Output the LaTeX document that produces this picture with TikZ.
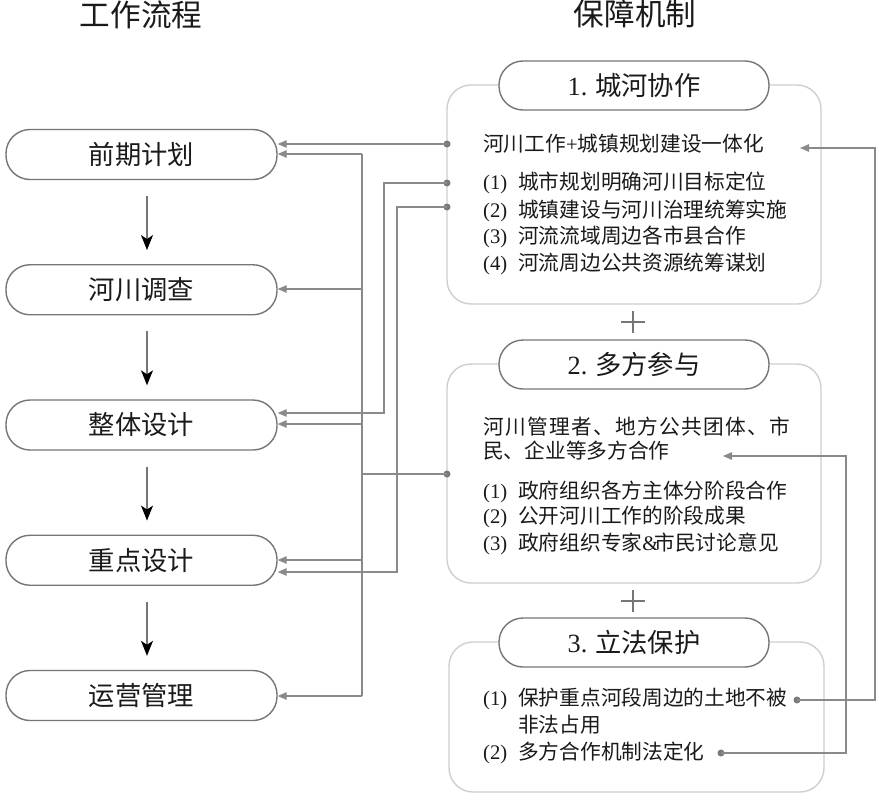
\documentclass[tikz,border=0pt]{standalone}
\usepackage{fontspec}
\setmainfont{Noto Sans CJK SC}
\newfontfamily\lat{Liberation Serif}
\newfontfamily\cjkwide[LetterSpace=6.3]{Noto Sans CJK SC}
\usetikzlibrary{arrows.meta}
\definecolor{boxgray}{HTML}{767676}
\definecolor{secgray}{HTML}{CFCFCF}
\definecolor{conngray}{HTML}{8A8A8A}
\definecolor{dotgray}{HTML}{7A7A7A}
\definecolor{txt}{HTML}{1A1A1A}
\newcommand{\itm}[1]{\makebox[35pt][l]{\lat (#1)}}
\tikzset{
  flowbox/.style={draw=boxgray, fill=white, line width=1.4pt, rounded corners=24pt,
    minimum width=271pt, minimum height=50pt, inner sep=0pt, text=txt,
    font=\fontsize{26.3}{30}\selectfont},
  secbox/.style={draw=secgray, line width=1.4pt, rounded corners=24pt, inner sep=0pt},
  pill/.style={draw=boxgray, fill=white, line width=1.4pt, rounded corners=24pt,
    minimum width=270pt, minimum height=49pt, inner sep=0pt, text=txt,
    font=\fontsize{26.3}{30}\selectfont},
  heading/.style={inner sep=0pt, text=txt, font=\fontsize{30.6}{34}\selectfont,
    text height=0.88em, text depth=0.12em},
  txtline/.style={anchor=west, inner sep=0pt, text=txt, font=\fontsize{20.7}{24}\selectfont,
    text height=0.88em, text depth=0.12em},
  conn/.style={draw=conngray, line width=1.2pt},
  arr/.style={conn, -{Triangle[length=9pt,width=7.5pt,fill=conngray]}},
  flow/.style={draw=boxgray, line width=1.3pt, -{Stealth[length=15pt,width=12pt,inset=4pt,black]}},
  dot/.style={fill=dotgray, draw=none, circle, inner sep=0pt, minimum size=7pt},
  plusline/.style={draw=boxgray, line width=1.4pt}
}
\begin{document}
\begin{tikzpicture}[x=1pt,y=-1pt]
\useasboundingbox[fill=white] (0,0) rectangle (885,800);

% headings
\node[heading] (h1) at (141,22.5) {工作流程};
\node[heading] (h2) at (635,22) {保障机制};

% left flow boxes
\node[flowbox] (L1) at (141.5,154.5) {前期计划};
\node[flowbox] (L2) at (141.5,289.75) {河川调查};
\node[flowbox] (L3) at (141.5,425) {整体设计};
\node[flowbox] (L4) at (141.5,560.25) {重点设计};
\node[flowbox] (L5) at (141.5,695.5) {运营管理};

\foreach \a/\b in {L1/L2,L2/L3,L3/L4,L4/L5}
  \draw[flow] ([xshift=5.5pt,yshift=-16pt]\a.south) -- ([xshift=5.5pt,yshift=14pt]\b.north);

% right section boxes
\node[secbox, minimum width=374pt, minimum height=219pt] (B1) at (634,194.5) {};
\node[secbox, minimum width=374pt, minimum height=219pt] (B2) at (634,473.5) {};
\node[secbox, minimum width=375pt, minimum height=150pt] (B3) at (636.5,717) {};

\node[pill] (P1) at (634,85.5) {{\lat 1.} 城河协作};
\node[pill] (P2) at (634,364.5) {{\lat 2.} 多方参与};
\node[pill] (P3) at (634,642.5) {{\lat 3.} 立法保护};

% plus signs
\coordinate (pc1) at (633,322);
\coordinate (pc2) at (633,601);
\foreach \p in {pc1,pc2}{
  \draw[plusline] ([xshift=-12pt]\p) -- ([xshift=12pt]\p);
  \draw[plusline] ([yshift=11pt]\p) -- ([yshift=-11pt]\p);
}

% box 1 text
\node[txtline] (t11) at (483,147.5) {河川工作{\lat +}城镇规划建设一体化};
\node[txtline] (t12) at (483,185.5) {\itm{1}城市规划明确河川目标定位};
\node[txtline] (t13) at (483,213.5) {\itm{2}城镇建设与河川治理统筹实施};
\node[txtline] (t14) at (483,240) {\itm{3}河流流域周边各市县合作};
\node[txtline] (t15) at (483,266.5) {\itm{4}河流周边公共资源统筹谋划};

% box 2 text
\node[txtline] (t21) at (483,430.5) {\cjkwide 河川管理者、地方公共团体、市};
\node[txtline] (t22) at (483,455) {民、企业等多方合作};
\node[txtline] (t23) at (483,494.5) {\itm{1}政府组织各方主体分阶段合作};
\node[txtline] (t24) at (483,520) {\itm{2}公开河川工作的阶段成果};
\node[txtline] (t25) at (483,546.5) {\itm{3}政府组织专家{\lat \&}\kern-4pt 市民讨论意见};

% box 3 text
\node[txtline] (t31) at (483,701.5) {\itm{1}保护重点河段周边的土地不被};
\node[txtline] (t32) at (518,728.5) {非法占用};
\node[txtline] (t33) at (483,755.5) {\itm{2}多方合作机制法定化};

% dots
\node[dot] (d1) at (447,144) {};
\node[dot] (d2) at (447,183) {};
\node[dot] (d3) at (447,207) {};
\node[dot] (d4) at (447,474) {};
\node[dot] (d5) at (797,700) {};
\node[dot] (d6) at (721,753) {};

% free arrow ends
\coordinate (e1) at (800,148);
\coordinate (e2) at (723,456);
\coordinate (bus) at (362,474);

% connectors to left column
\draw[arr] (d1.center) -- (L1.east |- d1.center);
\draw[conn] (d4.center) -- (bus);
\draw[conn] (362,154) -- (362,696);
\draw[arr] (362,154) -- (L1.east |- 0,154);
\draw[arr] (362,289) -- (L2.east |- 0,289);
\draw[arr] (362,424) -- (L3.east |- 0,424);
\draw[arr] (362,560) -- (L4.east |- 0,560);
\draw[arr] (362,696) -- (L5.east |- 0,696);
\draw[arr] (d2.center) -- (384,183) -- (384,413) -- (L3.east |- 0,413);
\draw[arr] (d3.center) -- (397,207) -- (397,572) -- (L4.east |- 0,572);

% feedback connectors on the right
\draw[arr] (d5.center) -- (875,700) -- (875,148) -- (e1);
\draw[arr] (d6.center) -- (846,753) -- (846,456) -- (e2);
\end{tikzpicture}
\end{document}
